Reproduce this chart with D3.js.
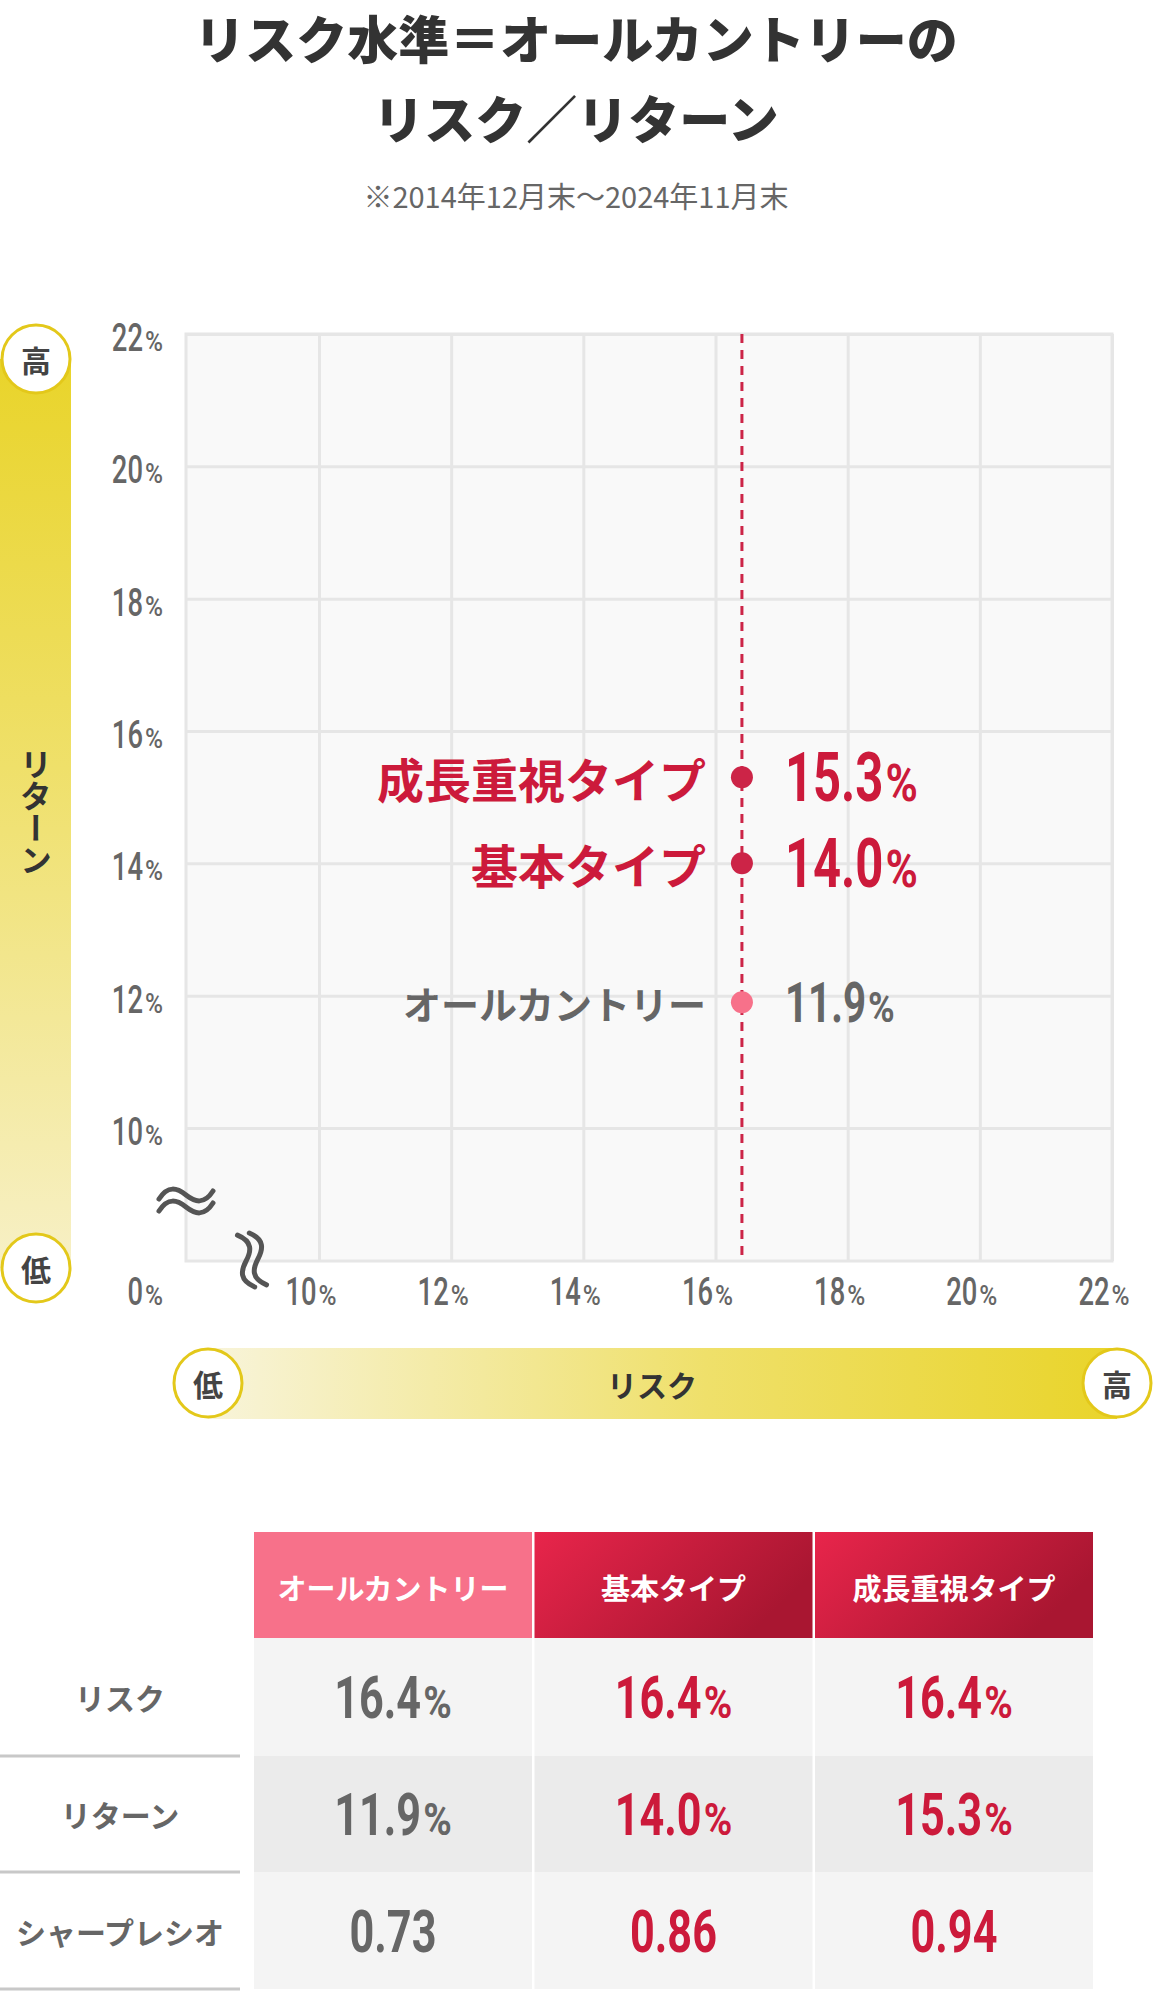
<!doctype html>
<meta charset="utf-8">
<title>リスク／リターン</title>
<script src="https://cdn.jsdelivr.net/npm/d3@7"></script>
<style>
  body { margin: 0; background: #fff; }
  text { font-family: "Noto Sans CJK JP", "Noto Sans", sans-serif; }
</style>
<svg id="chart" width="1153" height="1991"></svg>
<script>
  // データ
  const seriesNames = ["オールカントリー", "基本タイプ", "成長重視タイプ"]
  const riskValues = [16.4, 16.4, 16.4]
  const returnValues = [11.9, 14.0, 15.3]
  const sharpeValues = [0.73, 0.86, 0.94]
  const tickValues = [10, 12, 14, 16, 18, 20, 22]
  const rowLabels = ["リスク", "リターン", "シャープレシオ"]

  const RED = "#cc1a3b"
  const PINK = "#f7718a"
  const GRAY = "#666"
  const numFont = "Roboto, 'Open Sans', sans-serif"

  const svg = d3.select("#chart")
  const defs = svg.append("defs")

  // 軸ラベル用グラデーション
  const gv = defs.append("linearGradient").attr("id", "gv")
    .attr("x1", 0).attr("y1", 0).attr("x2", 0).attr("y2", 1)
  gv.append("stop").attr("offset", "0%").attr("stop-color", "#e9d42a")
  gv.append("stop").attr("offset", "45%").attr("stop-color", "#efe06a")
  gv.append("stop").attr("offset", "100%").attr("stop-color", "#f7f0c6")
  const gh = defs.append("linearGradient").attr("id", "gh")
    .attr("x1", 0).attr("y1", 0).attr("x2", 1).attr("y2", 0)
  gh.append("stop").attr("offset", "0%").attr("stop-color", "#f8f4da")
  gh.append("stop").attr("offset", "55%").attr("stop-color", "#efe06a")
  gh.append("stop").attr("offset", "100%").attr("stop-color", "#e9d42a")
  const gr = defs.append("linearGradient").attr("id", "gr")
    .attr("x1", 0).attr("y1", 0).attr("x2", 1).attr("y2", 0.4)
  gr.append("stop").attr("offset", "0%").attr("stop-color", "#e8254b")
  gr.append("stop").attr("offset", "100%").attr("stop-color", "#a91631")

  // 数字（細長フォントの代わりに横方向へ縮める）、% は少し小さく添える
  function numText(parent, x, y, value, pct, size, color, anchor, weight) {
    const g = parent.append("g")
    const t = g.append("g").attr("transform", "scale(0.72,1)").append("text")
      .attr("fill", color)
      .attr("font-size", size)
      .attr("font-weight", weight || 500)
      .style("font-family", numFont)
      .text(value)
    let total = t.node().getComputedTextLength() * 0.72
    if (pct) {
      const p = g.append("g").attr("transform", `translate(${total + 2},0) scale(0.86,1)`)
        .append("text")
        .attr("fill", color)
        .attr("font-size", size * 0.75)
        .attr("font-weight", weight || 500)
        .style("font-family", numFont)
        .text("%")
      total += 2 + p.node().getComputedTextLength() * 0.86
    }
    const off = anchor === "middle" ? -total / 2 : anchor === "end" ? -total : 0
    g.attr("transform", `translate(${x + off},${y})`)
    return g
  }

  // タイトル
  svg.append("text").attr("x", 576).attr("y", 37).attr("text-anchor", "middle")
    .attr("dominant-baseline", "central").attr("font-size", 51).attr("font-weight", 900)
    .attr("fill", "#333").text("リスク水準＝オールカントリーの")
  svg.append("text").attr("x", 576).attr("y", 117).attr("text-anchor", "middle")
    .attr("dominant-baseline", "central").attr("font-size", 51).attr("font-weight", 900)
    .attr("fill", "#333").text("リスク／リターン")
  svg.append("text").attr("x", 576).attr("y", 195).attr("text-anchor", "middle")
    .attr("dominant-baseline", "central").attr("font-size", 29)
    .attr("fill", GRAY).text("※2014年12月末〜2024年11月末")

  // スケール（0〜10% は省略）
  const x = d3.scaleLinear().domain([0, 10, 22]).range([186, 319, 1112])
  const y = d3.scaleLinear().domain([0, 10, 22]).range([1261, 1128, 334])
  const plotW = x(22) - x(0)
  const plotH = y(0) - y(22)

  const plot = svg.append("g")
  plot.append("rect").attr("x", x(0)).attr("y", y(22)).attr("width", plotW).attr("height", plotH)
    .attr("fill", "#f9f9f9")

  // グリッド
  const gridY = plot.append("g").attr("transform", `translate(${x(0)},0)`)
    .call(d3.axisLeft(y).tickValues(tickValues).tickSize(-plotW).tickFormat(""))
  const gridX = plot.append("g").attr("transform", `translate(0,${y(0)})`)
    .call(d3.axisBottom(x).tickValues(tickValues).tickSize(-plotH).tickFormat(""))
  ;[gridY, gridX].forEach(g => {
    g.select(".domain").remove()
    g.selectAll("line").attr("stroke", "#e6e6e6").attr("stroke-width", 3)
  })
  plot.append("rect").attr("x", x(0)).attr("y", y(22)).attr("width", plotW).attr("height", plotH)
    .attr("fill", "none").attr("stroke", "#e6e6e6").attr("stroke-width", 3)

  // 目盛りラベル
  tickValues.forEach(v => {
    numText(svg, 163, y(v) + 17, v, true, 38, GRAY, "end")
    numText(svg, x(v) - 8, 1305, v, true, 38, GRAY, "middle")
  })
  numText(svg, 163, 1305, 0, true, 38, GRAY, "end")

  // 省略記号
  const wave = "M-27,4 C-18,-10 -9,-7 0,0 S18,10 27,-4"
  function breakMark(cx, cy, rot) {
    const g = svg.append("g").attr("transform", `translate(${cx},${cy}) rotate(${rot})`)
    ;[-6, 6].forEach(dy => {
      g.append("path").attr("d", wave).attr("transform", `translate(0,${dy})`)
        .attr("fill", "none").attr("stroke", "#555").attr("stroke-width", 5)
        .attr("stroke-linecap", "round")
    })
  }
  breakMark(186, 1201, 0)
  breakMark(252, 1260, 80)

  // 縦軸：リターン
  svg.append("rect").attr("x", 0).attr("y", 359).attr("width", 71).attr("height", 1268 - 359)
    .attr("fill", "url(#gv)")
  svg.append("text").attr("x", 36).attr("y", 812).attr("text-anchor", "middle")
    .style("writing-mode", "vertical-rl").attr("font-size", 32).attr("font-weight", 700)
    .attr("fill", "#333").text("リターン")

  // 横軸：リスク
  svg.append("rect").attr("x", 208).attr("y", 1348).attr("width", 1117 - 208).attr("height", 71)
    .attr("fill", "url(#gh)")
  svg.append("text").attr("x", 652).attr("y", 1384).attr("text-anchor", "middle")
    .attr("dominant-baseline", "central").attr("font-size", 30).attr("font-weight", 700)
    .attr("fill", "#333").text("リスク")

  function badge(cx, cy, label) {
    svg.append("circle").attr("cx", cx).attr("cy", cy).attr("r", 34)
      .attr("fill", "#fff").attr("stroke", "#e3c81a").attr("stroke-width", 3)
    svg.append("text").attr("x", cx).attr("y", cy).attr("text-anchor", "middle")
      .attr("dominant-baseline", "central").attr("font-size", 30).attr("font-weight", 700)
      .attr("fill", "#444").text(label)
  }
  badge(36, 359, "高")
  badge(36, 1268, "低")
  badge(208, 1383, "低")
  badge(1117, 1383, "高")

  // リスク水準の点線
  svg.append("line").attr("x1", x(riskValues[0])).attr("x2", x(riskValues[0]))
    .attr("y1", y(22)).attr("y2", y(0))
    .attr("stroke", "#cc2447").attr("stroke-width", 3).attr("stroke-dasharray", "9,7")

  // 点とラベル
  const pointStyle = [
    { dot: PINK, text: GRAY, nameSize: 38, numSize: 56 },
    { dot: "#cc2447", text: RED, nameSize: 47, numSize: 68 },
    { dot: "#cc2447", text: RED, nameSize: 47, numSize: 68 },
  ]
  seriesNames.forEach((name, i) => {
    const px = x(riskValues[i])
    const py = y(returnValues[i])
    const st = pointStyle[i]
    svg.append("circle").attr("cx", px).attr("cy", py).attr("r", 11).attr("fill", st.dot)
    svg.append("text").attr("x", px - 36).attr("y", py).attr("text-anchor", "end")
      .attr("dominant-baseline", "central").attr("font-size", st.nameSize).attr("font-weight", 700)
      .attr("fill", st.text).text(name)
    numText(svg, px + 43, py + st.numSize * 0.355, returnValues[i].toFixed(1), true,
      st.numSize, st.text, "start", 700)
  })

  // 表
  const colX = [254, 534.5, 815]
  const colW = 278
  const headTop = 1532, headH = 106
  const rowTop = [1638, 1756, 1872]
  const rowH = [118, 116, 117]
  const rowBg = ["#f4f4f4", "#ebebeb", "#f4f4f4"]
  const table = svg.append("g")

  seriesNames.forEach((name, j) => {
    table.append("rect").attr("x", colX[j]).attr("y", headTop).attr("width", colW).attr("height", headH)
      .attr("fill", j === 0 ? PINK : "url(#gr)")
    table.append("text").attr("x", colX[j] + colW / 2).attr("y", headTop + headH / 2 + 2)
      .attr("text-anchor", "middle").attr("dominant-baseline", "central")
      .attr("font-size", 29).attr("font-weight", 700).attr("fill", "#fff").text(name)
  })

  const rows = [
    riskValues.map(v => ({ t: v.toFixed(1), pct: true })),
    returnValues.map(v => ({ t: v.toFixed(1), pct: true })),
    sharpeValues.map(v => ({ t: v.toFixed(2), pct: false })),
  ]
  rowLabels.forEach((label, r) => {
    const cy = rowTop[r] + rowH[r] / 2
    seriesNames.forEach((name, j) => {
      table.append("rect").attr("x", colX[j]).attr("y", rowTop[r]).attr("width", colW).attr("height", rowH[r])
        .attr("fill", rowBg[r])
      const cell = rows[r][j]
      numText(table, colX[j] + colW / 2, cy + 21, cell.t, cell.pct, 60,
        j === 0 ? GRAY : RED, "middle", 700)
    })
    table.append("text").attr("x", 120).attr("y", cy).attr("text-anchor", "middle")
      .attr("dominant-baseline", "central").attr("font-size", 30).attr("font-weight", 700)
      .attr("fill", GRAY).text(label)
    table.append("line").attr("x1", 0).attr("x2", 240)
      .attr("y1", rowTop[r] + rowH[r]).attr("y2", rowTop[r] + rowH[r])
      .attr("stroke", "#c8c8c8").attr("stroke-width", 3)
  })
</script>
